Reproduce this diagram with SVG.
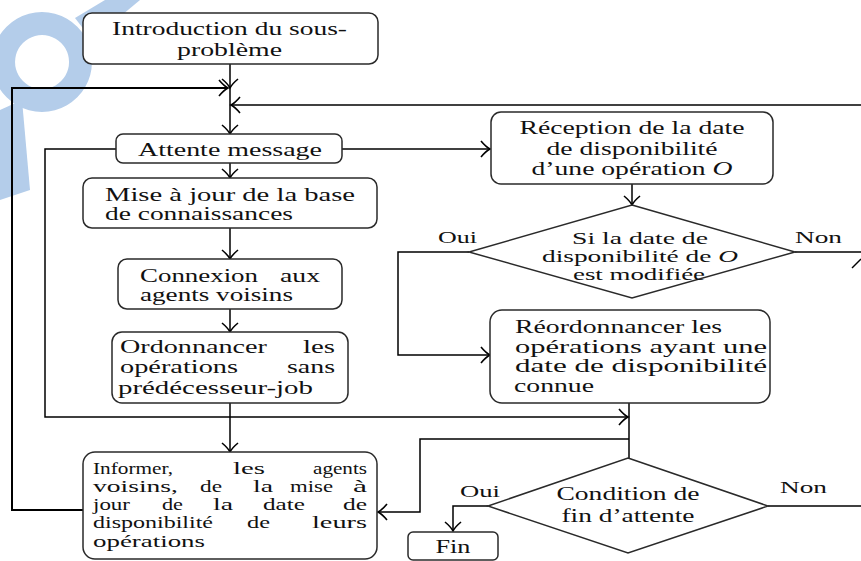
<svg xmlns="http://www.w3.org/2000/svg" width="861" height="561" viewBox="0 0 861 561">
<style>
.box{fill:#fff;stroke:#2a2a2a;stroke-width:1.5}
.c{fill:none;stroke:#000;stroke-width:1.5}
text{font-family:"Liberation Serif","Times New Roman",serif;fill:#111}
.t{font-size:19px}
.s{font-size:17px}
.m{text-anchor:middle}
.l{font-size:17px}
.wm{fill:#b4cdea}
</style>
<defs>
<marker id="a" viewBox="-10 -9 12 18" refX="0" refY="0" markerWidth="12" markerHeight="18" markerUnits="userSpaceOnUse" orient="auto">
<path d="M-9,-8 Q-4,-2 0,0 Q-4,2 -9,8" fill="none" stroke="#000" stroke-width="1.6"/>
</marker>
</defs>
<rect width="861" height="561" fill="#fff"/>
<g id="watermark">
<path class="wm" fill-rule="evenodd" d="M42,12 A50,50 0 1 1 41.9,12 Z M42,35 A27,27 0 1 0 42.1,35 Z"/>
<polygon class="wm" points="75,18 105,0 140,0 92,40"/>
<polygon class="wm" points="0,110 22,100 30,190 0,200"/>
</g>
<g id="connectors">
<path class="c" d="M230,64 V88" marker-end="url(#a)"/>
<path class="c" d="M230,88 V134" marker-end="url(#a)"/>
<path class="c" style="stroke-width:2" d="M83,510 H12 V88 H228" marker-end="url(#a)"/>
<path class="c" d="M861,105 H231" marker-end="url(#a)"/>
<path class="c" d="M116,149 H45 V417 H628" marker-end="url(#a)"/>
<path class="c" d="M342,149 H490" marker-end="url(#a)"/>
<path class="c" d="M230,163 V178" marker-end="url(#a)"/>
<path class="c" d="M230,228 V259" marker-end="url(#a)"/>
<path class="c" d="M230,309 V332" marker-end="url(#a)"/>
<path class="c" d="M230,403 V452" marker-end="url(#a)"/>
<path class="c" d="M632,184 V205" marker-end="url(#a)"/>
<path class="c" d="M469,252 H398 V355 H490" marker-end="url(#a)"/>
<path class="c" d="M795,252 H861"/>
<path class="c" d="M852,268 L861,259"/>
<path class="c" d="M629,403 V458"/>
<path class="c" d="M629,439 H420 V512 H378" marker-end="url(#a)"/>
<path class="c" d="M488,506 H453 V531" marker-end="url(#a)"/>
<path class="c" d="M768,506 H861"/>
</g>
<g id="intro">
<rect class="box" x="83" y="13" width="295" height="51" rx="9"/>
<text class="t m" x="229.5" y="35" textLength="235" lengthAdjust="spacingAndGlyphs">Introduction du sous-</text>
<text class="t m" x="229.5" y="56" textLength="105" lengthAdjust="spacingAndGlyphs">problème</text>
</g>
<g id="attente">
<rect class="box" x="116" y="134" width="226" height="29" rx="7"/>
<text class="t m" x="230" y="156" textLength="184" lengthAdjust="spacingAndGlyphs">Attente message</text>
</g>
<g id="miseajour">
<rect class="box" x="83" y="178" width="294" height="50" rx="9"/>
<text class="t" x="105" y="201" textLength="250" lengthAdjust="spacingAndGlyphs">Mise à jour de la base</text>
<text class="t" x="105" y="220" textLength="188" lengthAdjust="spacingAndGlyphs">de connaissances</text>
</g>
<g id="connexion">
<rect class="box" x="118" y="259" width="224" height="50" rx="9"/>
<text class="t" x="140" y="282" textLength="118" lengthAdjust="spacingAndGlyphs">Connexion</text>
<text class="t" x="280" y="282" textLength="40" lengthAdjust="spacingAndGlyphs">aux</text>
<text class="t" x="140" y="301" textLength="153" lengthAdjust="spacingAndGlyphs">agents voisins</text>
</g>
<g id="ordonnancer">
<rect class="box" x="112" y="332" width="236" height="71" rx="10"/>
<text class="t" x="120" y="353" textLength="147" lengthAdjust="spacingAndGlyphs">Ordonnancer</text>
<text class="t" x="303" y="353" textLength="32" lengthAdjust="spacingAndGlyphs">les</text>
<text class="t" x="120" y="373" textLength="118" lengthAdjust="spacingAndGlyphs">opérations</text>
<text class="t" x="287" y="373" textLength="48" lengthAdjust="spacingAndGlyphs">sans</text>
<text class="t" x="118" y="394" textLength="195" lengthAdjust="spacingAndGlyphs">prédécesseur-job</text>
</g>
<g id="informer">
<rect class="box" x="83" y="452" width="294" height="107" rx="12"/>
<text class="s" x="93" y="474" textLength="80" lengthAdjust="spacingAndGlyphs">Informer,</text>
<text class="s" x="233" y="474" textLength="32" lengthAdjust="spacingAndGlyphs">les</text>
<text class="s" x="313" y="474" textLength="54" lengthAdjust="spacingAndGlyphs">agents</text>
<text class="s" x="93" y="492" textLength="85" lengthAdjust="spacingAndGlyphs">voisins,</text>
<text class="s" x="200" y="492" textLength="22" lengthAdjust="spacingAndGlyphs">de</text>
<text class="s" x="253" y="492" textLength="20" lengthAdjust="spacingAndGlyphs">la</text>
<text class="s" x="290" y="492" textLength="43" lengthAdjust="spacingAndGlyphs">mise</text>
<text class="s" x="353" y="492" textLength="14" lengthAdjust="spacingAndGlyphs">à</text>
<text class="s" x="93" y="510" textLength="37" lengthAdjust="spacingAndGlyphs">jour</text>
<text class="s" x="162" y="510" textLength="21" lengthAdjust="spacingAndGlyphs">de</text>
<text class="s" x="213" y="510" textLength="20" lengthAdjust="spacingAndGlyphs">la</text>
<text class="s" x="263" y="510" textLength="42" lengthAdjust="spacingAndGlyphs">date</text>
<text class="s" x="343" y="510" textLength="24" lengthAdjust="spacingAndGlyphs">de</text>
<text class="s" x="93" y="528" textLength="120" lengthAdjust="spacingAndGlyphs">disponibilité</text>
<text class="s" x="247" y="528" textLength="23" lengthAdjust="spacingAndGlyphs">de</text>
<text class="s" x="312" y="528" textLength="55" lengthAdjust="spacingAndGlyphs">leurs</text>
<text class="s" x="93" y="547" textLength="112" lengthAdjust="spacingAndGlyphs">opérations</text>
</g>
<g id="reception">
<rect class="box" x="491" y="112" width="282" height="72" rx="10"/>
<text class="t m" x="632" y="134" textLength="225" lengthAdjust="spacingAndGlyphs">Réception de la date</text>
<text class="t m" x="632" y="155" textLength="171" lengthAdjust="spacingAndGlyphs">de disponibilité</text>
<text class="t m" x="632" y="175" textLength="201" lengthAdjust="spacingAndGlyphs">d’une opération <tspan font-style="italic">O</tspan></text>
</g>
<g id="decision1">
<polygon class="box" points="632,205 795,252 632,298 469,252"/>
<text class="s m" x="640" y="244" textLength="136" lengthAdjust="spacingAndGlyphs">Si la date de</text>
<text class="s m" x="640" y="262" textLength="196" lengthAdjust="spacingAndGlyphs">disponibilité de <tspan font-style="italic">O</tspan></text>
<text class="s m" x="639" y="280" textLength="132" lengthAdjust="spacingAndGlyphs">est modifiée</text>
<text class="l" x="438" y="243" textLength="39" lengthAdjust="spacingAndGlyphs">Oui</text>
<text class="l" x="795" y="243" textLength="47" lengthAdjust="spacingAndGlyphs">Non</text>
</g>
<g id="reordonnancer">
<rect class="box" x="490" y="310" width="280" height="93" rx="12"/>
<text class="t" x="515" y="333" textLength="207" lengthAdjust="spacingAndGlyphs">Réordonnancer les</text>
<text class="t" x="515" y="353" textLength="252" lengthAdjust="spacingAndGlyphs">opérations ayant une</text>
<text class="t" x="515" y="372" textLength="252" lengthAdjust="spacingAndGlyphs">date de disponibilité</text>
<text class="t" x="514" y="392" textLength="80" lengthAdjust="spacingAndGlyphs">connue</text>
</g>
<g id="decision2">
<polygon class="box" points="628,458 768,506 628,553 488,506"/>
<text class="t m" x="628" y="500" textLength="143" lengthAdjust="spacingAndGlyphs">Condition de</text>
<text class="t m" x="628" y="522" textLength="133" lengthAdjust="spacingAndGlyphs">fin d’attente</text>
<text class="l" x="460" y="497" textLength="40" lengthAdjust="spacingAndGlyphs">Oui</text>
<text class="l" x="780" y="493" textLength="47" lengthAdjust="spacingAndGlyphs">Non</text>
</g>
<g id="fin">
<rect class="box" x="408" y="532" width="90" height="28" rx="5"/>
<text class="t m" x="453" y="553" textLength="35" lengthAdjust="spacingAndGlyphs">Fin</text>
</g>
</svg>
